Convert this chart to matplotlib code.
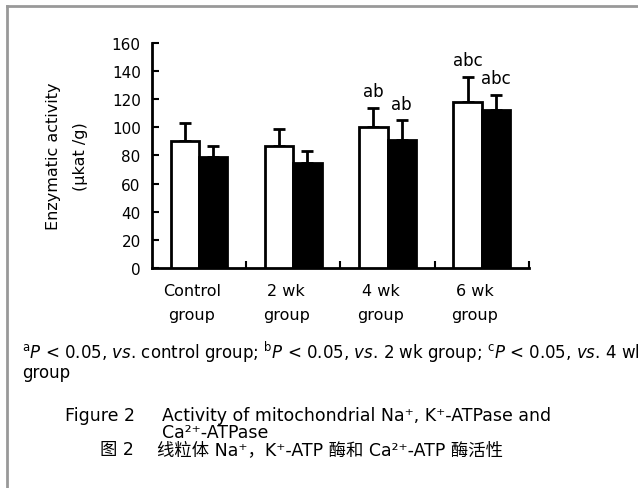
import numpy as np
import matplotlib
matplotlib.use("Agg")
import matplotlib.pyplot as plt
import matplotlib.transforms as mtransforms
from matplotlib.lines import Line2D

plt.rcParams["font.family"] = ["DejaVu Sans", "Noto Sans CJK SC"]

# data
groups = ["Control\ngroup", "2 wk\ngroup", "4 wk\ngroup", "6 wk\ngroup"]
na_k_atpase = [90, 87, 100, 118]      # white bars
na_k_err = [13, 12, 14, 18]
ca_atpase = [79, 75, 91, 112]         # black bars
ca_err = [8, 8, 14, 11]
na_k_marks = ["", "", "ab", "abc"]
ca_marks = ["", "", "ab", "abc"]
yticks = [0, 20, 40, 60, 80, 100, 120, 140, 160]

fig = plt.figure(figsize=(6.38, 4.89), dpi=100)
ax = fig.add_axes([0.238, 0.4499, 0.591, 0.4602])

x = np.arange(len(groups))
w = 0.3
err_kw = dict(capsize=4, elinewidth=2, capthick=2, ecolor="black")
ax.bar(x - 0.15, na_k_atpase, w, color="white", edgecolor="black",
       linewidth=2, zorder=3)
ax.errorbar(x - 0.15, na_k_atpase, yerr=[np.zeros(4), na_k_err],
            fmt="none", zorder=2, **err_kw)
ax.bar(x + 0.15, ca_atpase, w, color="black", edgecolor="black",
       linewidth=2, zorder=3)
ax.errorbar(x + 0.15, ca_atpase, yerr=[np.zeros(4), ca_err],
            fmt="none", zorder=2, **err_kw)

for i in range(len(groups)):
    if na_k_marks[i]:
        ax.annotate(na_k_marks[i], (x[i] - 0.15, na_k_atpase[i] + na_k_err[i]),
                    xytext=(0, 12), textcoords="offset points",
                    ha="center", va="center", fontsize=12)
    if ca_marks[i]:
        ax.annotate(ca_marks[i], (x[i] + 0.15, ca_atpase[i] + ca_err[i]),
                    xytext=(0, 12), textcoords="offset points",
                    ha="center", va="center", fontsize=12)

ax.set_xlim(-0.5, 3.5)
ax.set_ylim(0, 160)
ax.set_yticks(yticks)
ax.tick_params(axis="y", direction="in", length=5, width=1.5, labelsize=11, pad=8)
ax.set_xticks(x)
ax.set_xticklabels(groups, fontsize=11.5, linespacing=1.75)
ax.tick_params(axis="x", length=0, pad=11)
shift = mtransforms.ScaledTranslation(-7 / 100, 0, fig.dpi_scale_trans)
for lab in ax.get_xticklabels():
    lab.set_transform(lab.get_transform() + shift)
ax.set_xticks([0.5, 1.5, 2.5, 3.5], minor=True)
ax.tick_params(axis="x", which="minor", direction="in", length=5, width=1.5)
for s in ["top", "right"]:
    ax.spines[s].set_visible(False)
for s in ["left", "bottom"]:
    ax.spines[s].set_linewidth(2)
ax.set_ylabel("Enzymatic activity\n(μkat /g)", fontsize=11.5, labelpad=17,
              linespacing=2.0)

# frame
fig.add_artist(Line2D([0.011, 1.0], [0.986, 0.986], color="#999999", lw=2,
                      transform=fig.transFigure))
fig.add_artist(Line2D([0.011, 0.011], [0.0, 0.986], color="#999999", lw=2,
                      transform=fig.transFigure))

# footnote
foot = (r"$^{\mathrm{a}}$$\it{P}$ < 0.05, $\it{vs}$. control group; "
        r"$^{\mathrm{b}}$$\it{P}$ < 0.05, $\it{vs}$. 2 wk group; "
        r"$^{\mathrm{c}}$$\it{P}$ < 0.05, $\it{vs}$. 4 wk")
fig.text(22 / 638, 1 - 352 / 489, foot, fontsize=12, va="center", ha="left")
fig.text(22 / 638, 1 - 373 / 489, "group", fontsize=12, va="center", ha="left")

# caption
fig.text(65 / 638, 1 - 416 / 489, "Figure 2", fontsize=12.5, va="center")
fig.text(162 / 638, 1 - 416 / 489,
         "Activity of mitochondrial Na⁺, K⁺-ATPase and",
         fontsize=12.5, va="center")
fig.text(162 / 638, 1 - 433 / 489, "Ca²⁺-ATPase", fontsize=12.5, va="center")
fig.text(100 / 638, 1 - 450 / 489, "图 2", fontsize=12.5, va="center")
fig.text(157 / 638, 1 - 450 / 489,
         "线粒体 Na⁺，K⁺-ATP 酶和 Ca²⁺-ATP 酶活性",
         fontsize=12.5, va="center")

fig.savefig("out.png", dpi=100)
